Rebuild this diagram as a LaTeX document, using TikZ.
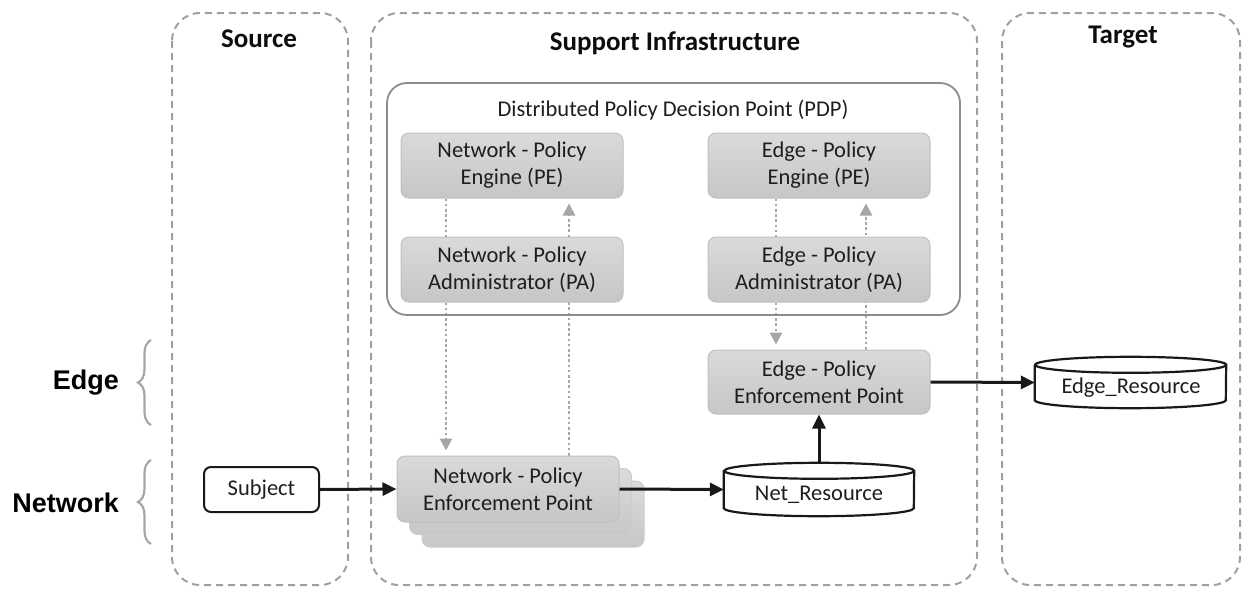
\documentclass[tikz,border=0pt]{standalone}
\usepackage{fontspec}
\setmainfont{Carlito}
\newfontfamily\arialfont{Liberation Sans}
\usetikzlibrary{arrows.meta,decorations.pathreplacing,calc}
\pgfdeclarelayer{bg}
\pgfsetlayers{bg,main}
\definecolor{txt}{HTML}{1E1E1E}
\definecolor{dashc}{HTML}{A0A0A0}
\definecolor{boxtop}{HTML}{DADADA}
\definecolor{boxbot}{HTML}{C6C6C6}
\definecolor{boxline}{HTML}{C0C0C0}
\definecolor{dotc}{HTML}{A6A6A6}
\begin{document}
\begin{tikzpicture}[x=1pt,y=-1pt,
  container/.style={draw=dashc,line width=2pt,dash pattern=on 7pt off 5pt,rounded corners=28pt},
  titletext/.style={font=\fontsize{27}{32}\selectfont\bfseries,text=black!95},
  pbox/.style={rectangle,rounded corners=8pt,minimum width=222pt,inner sep=0pt,align=center,
     top color=boxtop,bottom color=boxbot,draw=boxline,line width=1pt,
     font=\fontsize{22.5}{27}\selectfont,text=txt},
  ghost/.style={rectangle,rounded corners=8pt,minimum width=222pt,minimum height=66pt,
     top color=black!14,bottom color=black!22,draw=black!20,line width=1pt},
  pdp/.style={draw=black!45,line width=1.8pt,rounded corners=20pt},
  arr/.style={draw=black!90,line width=3pt,-{Triangle[length=14pt,width=13pt]}},
  darr/.style={draw=dotc,line width=2.8pt,dash pattern=on 2.6pt off 2.6pt,
     -{Triangle[length=12pt,width=12pt]},shorten >=5pt},
  cyl/.style={draw=black!90,line width=2.2pt,fill=white},
  lab/.style={font=\arialfont\fontsize{27}{32}\selectfont\bfseries,text=black,anchor=east,inner sep=0pt},
  bracestyle/.style={draw=black!35,line width=2.2pt,decorate,decoration={brace,amplitude=13pt}},
  plain/.style={font=\fontsize{22.5}{27}\selectfont,text=txt,inner sep=0pt}
]
\useasboundingbox (0,0) rectangle (1243,589);

% containers
\draw[container] (172,13) rectangle (348,585);
\draw[container] (371,13) rectangle (977,585);
\draw[container] (1002,13) rectangle (1240,585);
\node[titletext] (tsrc) at (259,39) {Source};
\node[titletext] (tsup) at (675,43) {Support Infrastructure};
\node[titletext] (ttgt) at (1123,37) {Target};

% PDP
\draw[pdp] (387,83) rectangle (960,315);
\node[plain] (pdpt) at (673,110) {Distributed Policy Decision Point (PDP)};

% boxes
\node[pbox,minimum height=65pt] (npe) at (512,165.5) {Network - Policy\\Engine (PE)};
\node[pbox,minimum height=65pt] (npa) at (512,269.5) {Network - Policy\\Administrator (PA)};
\node[pbox,minimum height=65pt] (epe) at (819,165.5) {Edge - Policy\\Engine (PE)};
\node[pbox,minimum height=65pt] (epa) at (819,269.5) {Edge - Policy\\Administrator (PA)};
\node[pbox,minimum height=64pt] (epep) at (819,382) {Edge - Policy\\Enforcement Point};

\node[ghost] (npep3) at (533,514) {};
\node[ghost] (npep2) at (520.5,501.5) {};
\node[pbox,minimum height=66pt] (npep) at (508,489) {Network - Policy\\Enforcement Point};

% subject
\node[draw=black!90,line width=2pt,rounded corners=7pt,minimum width=115pt,minimum height=45pt,
  inner sep=0pt,font=\fontsize{22.5}{27}\selectfont,text=txt,fill=white] (subj) at (261.5,489.5) {Subject};

% cylinders
\node[minimum width=190pt,minimum height=53pt,inner sep=0pt] (nres) at (819,489.5) {};
\draw[cyl] ([yshift=-8pt]nres.north west) -- ([yshift=8pt]nres.south west)
  arc[start angle=180,end angle=360,x radius=95pt,y radius=8pt]
  -- ([yshift=-8pt]nres.north east)
  arc[start angle=0,end angle=360,x radius=95pt,y radius=8pt];
\node[plain] (nrest) at (819,495) {Net\_Resource};

\node[minimum width=191pt,minimum height=51pt,inner sep=0pt] (eres) at (1130.5,382.5) {};
\draw[cyl] ([yshift=-8pt]eres.north west) -- ([yshift=8pt]eres.south west)
  arc[start angle=180,end angle=360,x radius=95.5pt,y radius=8pt]
  -- ([yshift=-8pt]eres.north east)
  arc[start angle=0,end angle=360,x radius=95.5pt,y radius=8pt];
\node[plain] (erest) at (1131,388) {Edge\_Resource};

% dotted arrows (behind boxes)
\begin{pgfonlayer}{bg}
\draw[darr] ([xshift=-66pt]npe.south) -- ([xshift=-62pt]npep.north);
\draw[darr] ([xshift=61pt]npep.north) -- ([xshift=57pt]npe.south);
\draw[darr] ([xshift=-43pt]epe.south) -- ([xshift=-43pt]epep.north);
\draw[darr] ([xshift=47pt]epep.north) -- ([xshift=47pt]epe.south);
\end{pgfonlayer}

% solid arrows
\draw[arr] (subj.east) -- (npep.west);
\draw[arr] (npep.east) -- (nres.west);
\draw[arr] (nres.north) -- (epep.south);
\draw[arr] (epep.east) -- (eres.west);

% braces and labels
\draw[bracestyle] (151,425) -- (151,340);
\draw[bracestyle] (151,544) -- (151,460);
\node[lab] (ledge) at (119,383) {Edge};
\node[lab] (lnet) at (119,503) {Network};
\end{tikzpicture}
\end{document}
